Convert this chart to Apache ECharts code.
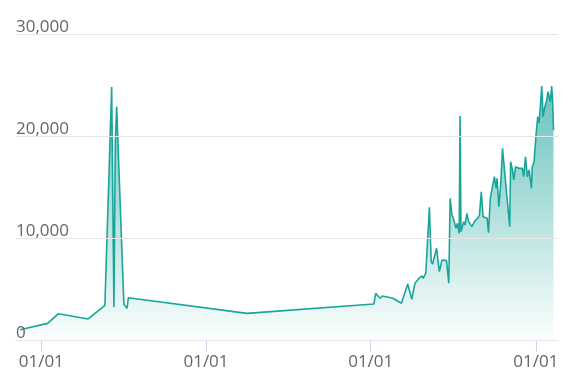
<!DOCTYPE html>
<html>
<head>
<meta charset="utf-8">
<script src="https://cdn.jsdelivr.net/npm/echarts@6/dist/echarts.min.js"></script>
<style>html,body{margin:0;padding:0;background:#fff}#c{width:574px;height:390px}</style>
</head>
<body>
<div id="c"></div>
<script>
var dates = [
 '2017-11-15','2018-01-15','2018-02-08','2018-04-15','2018-05-22','2018-06-06','2018-06-11','2018-06-14','2018-06-17','2018-07-03','2018-07-10','2018-07-13',
 '2019-04-02',
 '2020-01-08','2020-01-12','2020-01-17','2020-01-22','2020-01-27','2020-02-19','2020-03-09','2020-03-23','2020-04-01','2020-04-08','2020-04-19','2020-04-24','2020-04-26','2020-05-02','2020-05-10','2020-05-14','2020-05-17','2020-05-26','2020-06-01','2020-06-07','2020-06-11','2020-06-17','2020-06-22','2020-06-25','2020-06-29','2020-07-02','2020-07-08','2020-07-11','2020-07-15','2020-07-17','2020-07-19','2020-07-25','2020-07-28','2020-08-01','2020-08-05','2020-08-12','2020-08-20','2020-08-25','2020-08-29','2020-09-02','2020-09-06','2020-09-09','2020-09-15','2020-09-18','2020-09-22','2020-09-26','2020-10-01','2020-10-05','2020-10-07','2020-10-11','2020-10-15','2020-10-19','2020-11-04','2020-11-06','2020-11-10','2020-11-13','2020-11-17','2020-11-24','2020-12-02','2020-12-05','2020-12-09','2020-12-13','2020-12-17','2020-12-22','2020-12-24','2020-12-28',
 '2021-01-01','2021-01-05','2021-01-08','2021-01-11','2021-01-14','2021-01-17','2021-01-21','2021-01-25','2021-01-28','2021-01-30','2021-02-02','2021-02-05','2021-02-07','2021-02-09'
];
var values = [
 1000,1630,2580,2060,3400,24800,3200,19300,22900,3500,3100,4150,
 2610,
 3530,4580,4310,4090,4310,4090,3600,5490,3990,5560,6150,6270,6050,6540,13010,7680,7450,8990,6700,7840,7680,7780,5560,13890,12250,11930,10950,11440,10460,21960,10620,11600,11270,12420,11600,11110,11760,11930,12250,14540,12090,12250,11930,10520,13890,14050,16010,14870,15850,13070,15200,18790,11110,17480,16670,15690,16990,16830,16830,16010,17970,16010,16670,14870,16990,17480,
 19930,21890,21250,23000,24900,21890,22870,23530,24340,24180,23360,24900,23530,20590
];
var yTicks = [0, 10000, 20000, 30000];
var xTickDates = ['2018-01-01','2019-01-01','2020-01-01','2021-01-01'];
var xMin = '2017-11-06';
var xMax = '2021-02-19';

function ts(s){ var p = s.split('-'); return Date.UTC(+p[0], +p[1]-1, +p[2]); }
var seriesData = dates.map(function(d,i){ return [ts(d), values[i]]; });
var chart = echarts.init(document.getElementById('c'));
chart.setOption({
  animation: false,
  grid: { left: 16, right: 16, top: 34, bottom: 50, containLabel: false },
  xAxis: {
    type: 'value',
    min: ts(xMin), max: ts(xMax),
    axisLine: { show: true, lineStyle: { color: '#ccd6eb', width: 1 } },
    axisTick: { show: true, length: 12, lineStyle: { color: '#ccd6eb' }, customValues: xTickDates.map(ts) },
    axisLabel: { customValues: xTickDates.map(ts), formatter: function(v){ var d=new Date(v); var m=('0'+(d.getUTCMonth()+1)).slice(-2), dd=('0'+d.getUTCDate()).slice(-2); return m+'/'+dd; },
      color: '#666', fontSize: 17, fontFamily: 'Open Sans', margin: 14 },
    splitLine: { show: false }
  },
  yAxis: {
    type: 'value', min: yTicks[0], max: yTicks[yTicks.length-1], interval: 10000,
    axisLine: { show: false }, axisTick: { show: false },
    axisLabel: { inside: true, verticalAlign: 'bottom', margin: 0, lineHeight: 13, color: '#666', fontSize: 17, fontFamily: 'Open Sans',
      formatter: function(v){ return v.toLocaleString('en-US'); } },
    splitLine: { lineStyle: { color: '#e6e6e6' } },
    z: 5
  },
  series: [{
    type: 'line', data: seriesData, symbol: 'none', smooth: false,
    lineStyle: { color: '#1aa59b', width: 1.6 },
    areaStyle: { color: new echarts.graphic.LinearGradient(0,0,0,1,[{offset:0,color:'rgba(26,165,155,0.95)'},{offset:1,color:'rgba(26,165,155,0.02)'}]) }
  }]
});
</script>
</body>
</html>
